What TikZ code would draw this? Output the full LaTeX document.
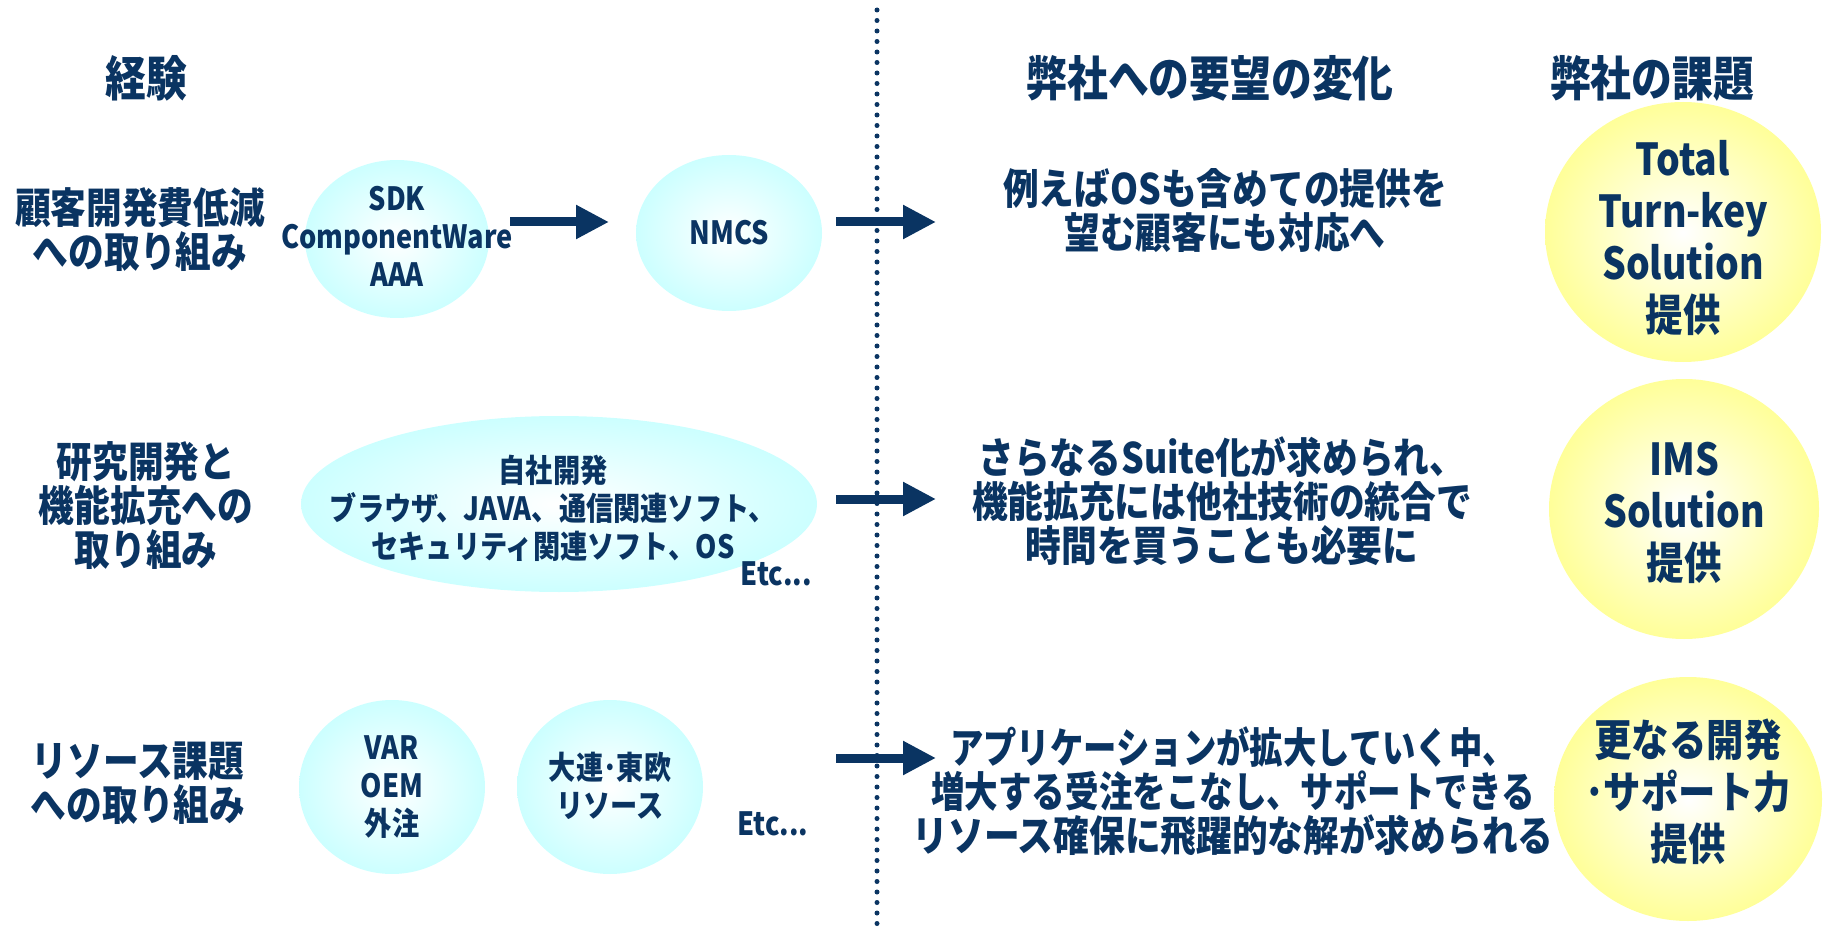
\documentclass[tikz,border=0pt]{standalone}
\usepackage{fontspec}
\usepackage{graphicx}
\setmainfont{Noto Sans CJK JP}[FakeStretch=0.85]
\usetikzlibrary{shapes.geometric,arrows.meta}
\definecolor{navy}{HTML}{0A3462}
\definecolor{cyanfill}{HTML}{CCFFFF}
\definecolor{yelfill}{HTML}{FFFF99}
\tikzset{
 txt/.style={text=navy,font=\bfseries\fontsize{42}{44}\selectfont,align=center,inner sep=0pt},
 head/.style={txt,font=\bfseries\fontsize{48}{50}\selectfont},
 small/.style={txt,font=\bfseries\fontsize{32}{38}\selectfont},
 big/.style={txt,font=\bfseries\fontsize{44}{52}\selectfont},
 blob/.style={ellipse,inner sep=0pt,inner color=white,outer color=cyanfill},
 sun/.style={ellipse,inner sep=0pt,inner color=white,outer color=yelfill},
 barrow/.style={draw=navy,line width=9pt,-{Triangle[length=33pt,width=32pt]}},
}
\begin{document}
\begin{tikzpicture}[x=1pt,y=-1pt]
\useasboundingbox (0,0) rectangle (1829,933);
% divider
\coordinate (dtop) at (877,10);
\coordinate (dbot) at (877,933);
\draw[navy,line width=5pt,line cap=round,dash pattern=on 0pt off 10.5pt] (dtop) -- (dbot);
% headers
\node[head] (h1) at (146,78) {経験};
\node[head] (h2) at (1210,78) {弊社への要望の変化};
\node[head] (h3) at (1652,78) {弊社の課題};
% left labels
\node[txt] (l1) at (140,230) {顧客開発費低減\\への取り組み};
\node[txt] (l2) at (146,506) {研究開発と\\機能拡充への\\取り組み};
\node[txt] (l3) at (138,783) {リソース課題\\への取り組み};
% blobs
\node[blob,minimum width=184pt,minimum height=158pt] (e1) at (397,239) {};
\node[small] (t1) at (397,236) {SDK\\ComponentWare\\AAA};
\node[blob,minimum width=186pt,minimum height=156pt] (e2) at (729,233) {};
\node[small] (t2) at (729,233) {NMCS};
\node[blob,minimum width=516pt,minimum height=176pt] (e3) at (559,504) {};
\node[small] (t3) at (553,508) {自社開発\\ブラウザ、JAVA、通信関連ソフト、\\セキュリティ関連ソフト、OS};
\node[small,anchor=east] (etc1) at (812,574) {Etc...};
\node[blob,minimum width=186pt,minimum height=174pt] (e4) at (392,787) {};
\node[small] (t4) at (392,787) {VAR\\OEM\\外注};
\node[blob,minimum width=186pt,minimum height=174pt] (e5) at (610,787) {};
\node[small] (t5) at (610,786) {大連･東欧\\リソース};
\node[small] (etc2) at (773,824) {Etc...};
% right texts
\node[txt] (r1) at (1225,211) {例えばOSも含めての提供を\\望む顧客にも対応へ};
\node[txt] (r2) at (1222,501) {さらなるSuite化が求められ、\\機能拡充には他社技術の統合で\\時間を買うことも必要に};
\node[txt] (r3) at (1233,791) {\scalebox{0.935}[1]{アプリケーションが拡大していく中、}\\\scalebox{0.94}[1]{増大する受注をこなし、サポートできる}\\リソース確保に飛躍的な解が求められる};
% suns
\node[sun,minimum width=276pt,minimum height=260pt] (y1) at (1683,232) {};
\node[big] (s1) at (1683,238) {Total\\Turn-key\\Solution\\提供};
\node[sun,minimum width=270pt,minimum height=260pt] (y2) at (1684,509) {};
\node[big] (s2) at (1684,513) {IMS\\Solution\\提供};
\node[sun,minimum width=268pt,minimum height=244pt] (y3) at (1688,799) {};
\node[big] (s3) at (1688,792) {更なる開発\\･サポート力\\提供};
% arrows
\coordinate (a1s) at (510,222); \coordinate (a1e) at (609,222);
\coordinate (a2s) at (836,222); \coordinate (a2e) at (936,222);
\coordinate (a3s) at (836,499); \coordinate (a3e) at (936,499);
\coordinate (a4s) at (836,758); \coordinate (a4e) at (936,758);
\draw[barrow] (a1s) -- (a1e);
\draw[barrow] (a2s) -- (a2e);
\draw[barrow] (a3s) -- (a3e);
\draw[barrow] (a4s) -- (a4e);
\end{tikzpicture}
\end{document}
